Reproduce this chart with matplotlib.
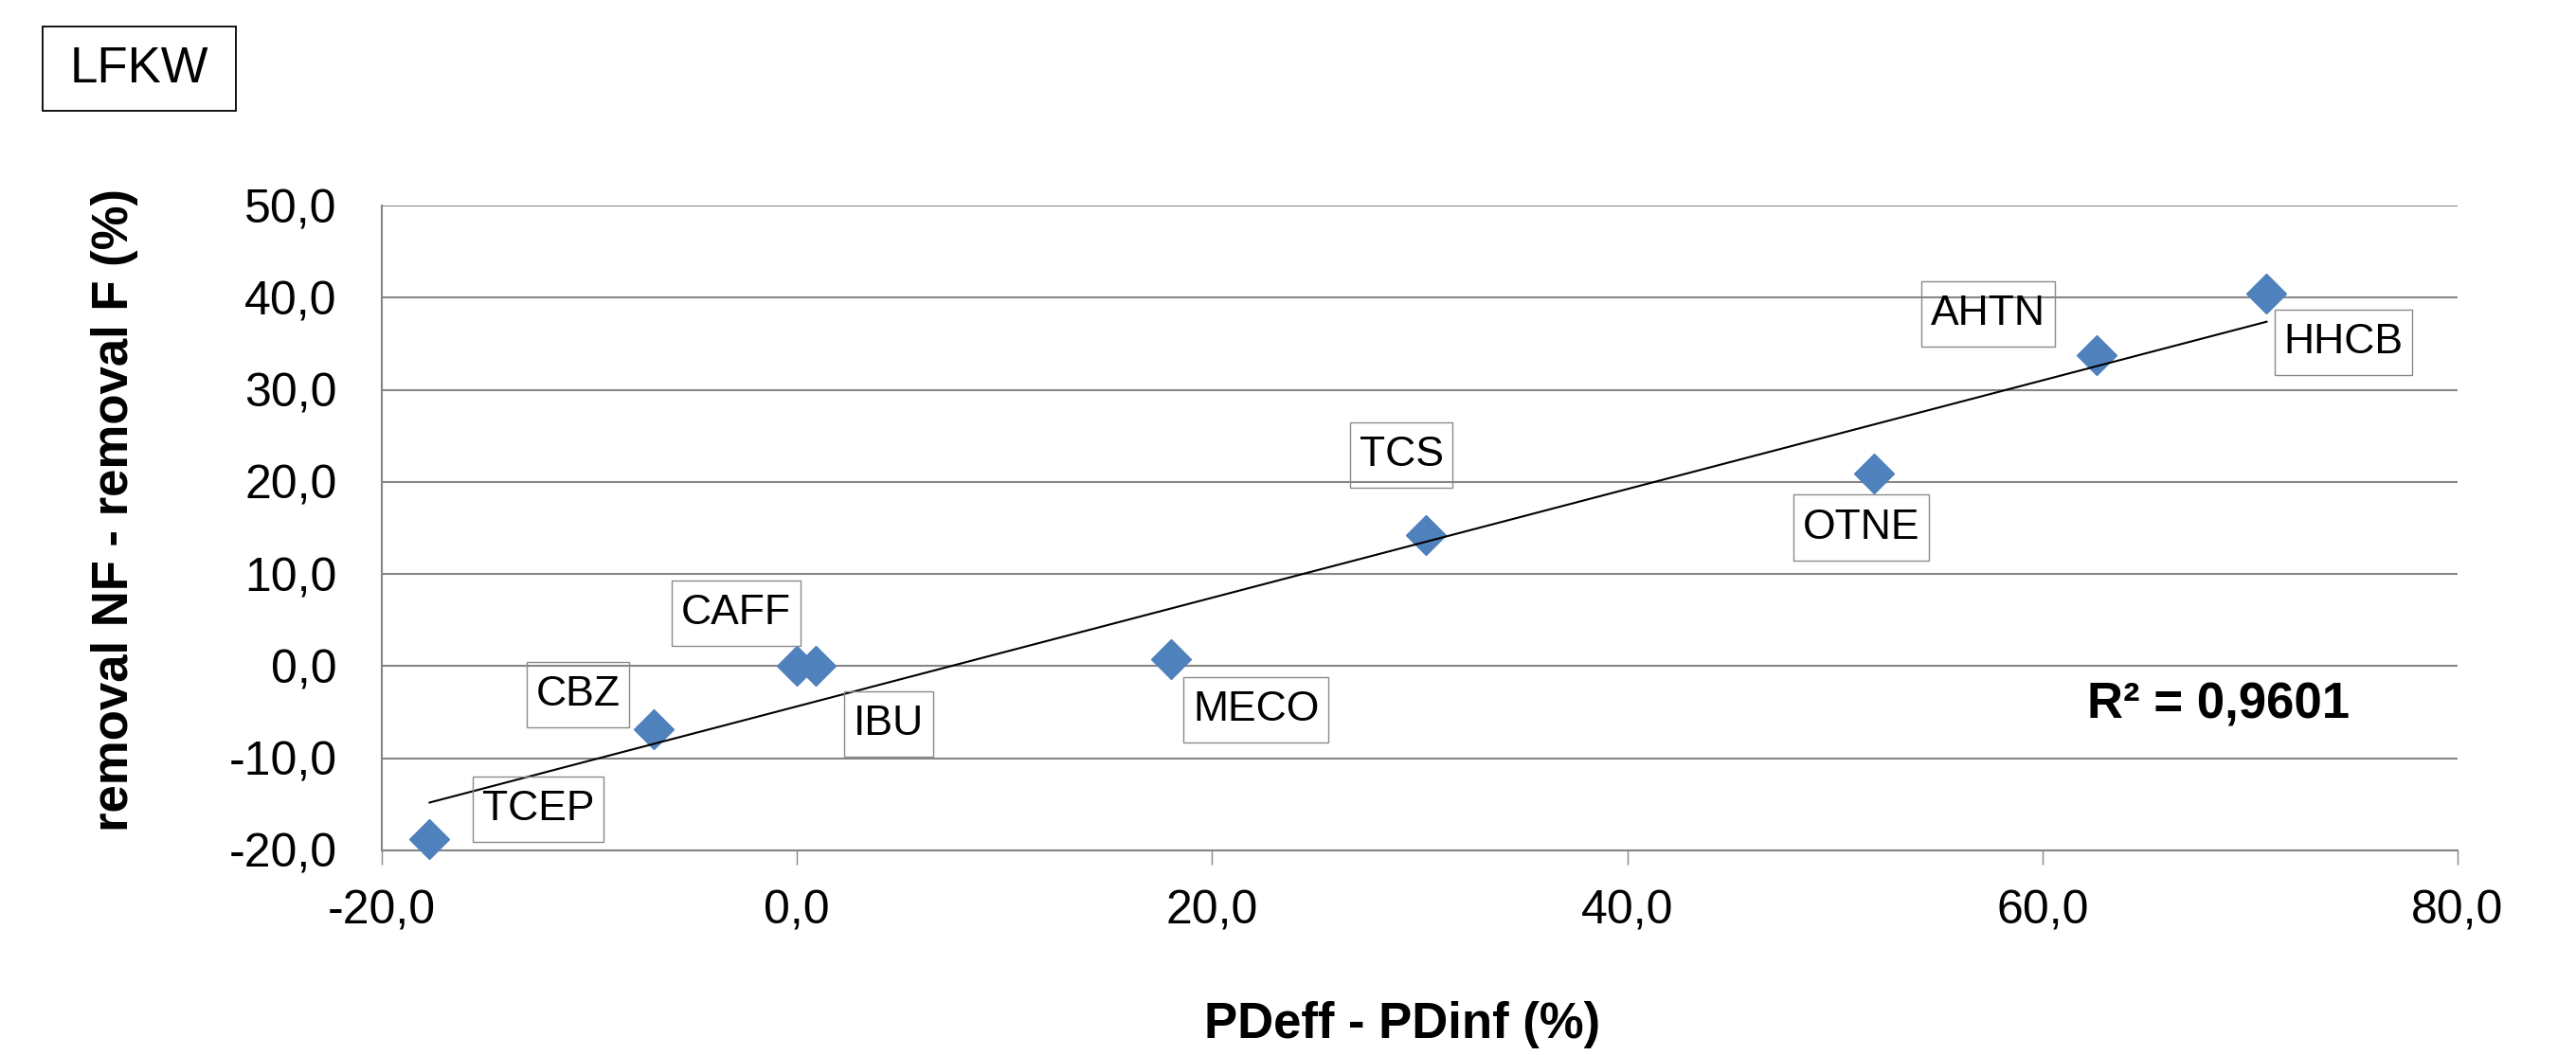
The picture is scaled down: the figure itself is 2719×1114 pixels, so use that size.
import matplotlib
matplotlib.use('Agg')
import matplotlib.pyplot as plt
import matplotlib.patches as mpatches
from matplotlib.path import Path
from matplotlib.ticker import FuncFormatter, MultipleLocator
import numpy as np

# data
compounds = ['TCEP', 'CBZ', 'CAFF', 'IBU', 'MECO', 'TCS', 'OTNE', 'AHTN', 'HHCB']
pd_diff = [-17.7, -6.9, 0.0, 0.9, 18.0, 30.3, 51.9, 62.6, 70.8]
removal_diff = [-18.8, -6.8, 0.0, 0.0, 0.8, 14.2, 20.9, 33.8, 40.4]
r2_text = 'R² = 0,9601'
panel_name = 'LFKW'

# label box offsets from each point (pixels, x right / y up)
label_offsets = {
    'TCEP': (115, 32), 'CBZ': (-80, 36), 'CAFF': (-64, 56),
    'IBU': (77, -61), 'MECO': (90, -54), 'TCS': (-26, 85),
    'OTNE': (-14, -57), 'AHTN': (-114, 43), 'HHCB': (81, -51),
}

plt.rcParams['font.family'] = ['Liberation Sans', 'DejaVu Sans']


def label_box(x0, y0, width, height, mutation_size):
    # excel-like label frame: more room above/below than at the sides
    px = 0.22 * mutation_size
    py = 0.32 * mutation_size
    x1, y1 = x0 + width + px, y0 + height + py
    x0, y0 = x0 - px, y0 - py
    return Path([(x0, y0), (x1, y0), (x1, y1), (x0, y1), (x0, y0)], closed=True)


W, H = 2719, 1114
fig = plt.figure(figsize=(W / 100, H / 100), dpi=100)
ax = fig.add_axes([403 / W, 1 - 898 / H, (2594 - 403) / W, (898 - 217) / H])

grid_col = '#868686'

# points
ax.plot(pd_diff, removal_diff, linestyle='none', marker='D', markersize=21,
        color='#4F81BD', zorder=3, clip_on=False)

# linear trendline
x = np.array(pd_diff)
y = np.array(removal_diff)
k, b = np.polyfit(x, y, 1)
xf = np.array([x.min(), x.max()])
ax.plot(xf, k * xf + b, color='black', lw=1.5, zorder=4)

# labels
for name, xv, yv in zip(compounds, pd_diff, removal_diff):
    ax.annotate(name, (xv, yv), xytext=label_offsets[name],
                textcoords='offset pixels', ha='center', va='center',
                fontsize=32, zorder=5,
                bbox=dict(boxstyle=label_box, fc='none',
                          ec='#8a8a8a', lw=1.0))

ax.text(0.885, 0.226, r2_text, transform=ax.transAxes, ha='center',
        va='center', fontsize=38, fontweight='bold')

# axes
ax.set_xlim(-20, 80)
ax.set_ylim(-20, 50)
ax.xaxis.set_major_locator(MultipleLocator(20))
ax.yaxis.set_major_locator(MultipleLocator(10))
fmt = FuncFormatter(lambda v, p: f'{v:.1f}'.replace('.', ',').replace('\u2212', '-'))
ax.xaxis.set_major_formatter(fmt)
ax.yaxis.set_major_formatter(fmt)
ax.grid(axis='y', color=grid_col, lw=1.5)
ax.set_axisbelow(True)
for s in ['top', 'right']:
    ax.spines[s].set_visible(False)
for s in ['left', 'bottom']:
    ax.spines[s].set_color(grid_col)
    ax.spines[s].set_linewidth(1.5)
ax.tick_params(axis='x', direction='out', length=11, width=1.0,
               color=grid_col, labelsize=36, pad=19)
ax.tick_params(axis='y', length=0, labelsize=36, pad=34)

fig.text(1480 / W, 1 - 1082 / H, 'PDeff - PDinf (%)', ha='center',
         va='center', fontsize=38, fontweight='bold')
fig.text(121 / W, 1 - 538 / H, 'removal NF - removal F (%)', ha='center',
         va='center', rotation=90, fontsize=38, fontweight='bold')

# panel tag box
fig.patches.append(mpatches.Rectangle((45 / W, 1 - 117 / H), 204 / W, 89 / H,
                                      transform=fig.transFigure, fill=False,
                                      ec='black', lw=1.3))
fig.text(147 / W, 1 - 73 / H, panel_name, ha='center', va='center',
         fontsize=38)

fig.savefig('out.png', dpi=100)
